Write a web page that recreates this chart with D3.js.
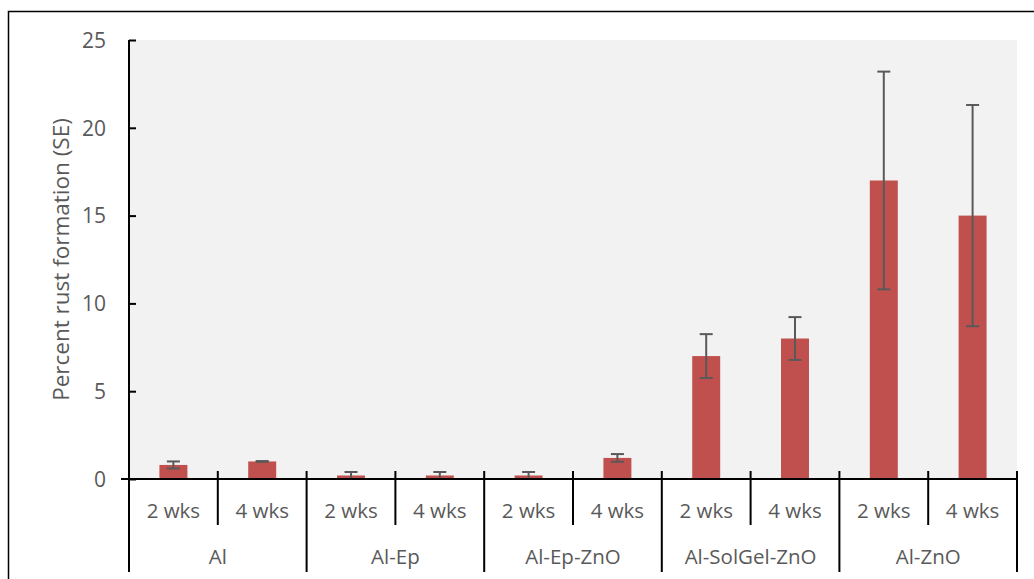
<!DOCTYPE html>
<html>
<head>
<meta charset="utf-8">
<script src="https://cdn.jsdelivr.net/npm/d3@7"></script>
<style>
  html, body { margin: 0; padding: 0; background: #fff; }
  svg { display: block; }
  text { font-family: "Open Sans", sans-serif; fill: #595959; }
</style>
</head>
<body>
<svg id="chart" width="1034" height="579"></svg>
<script>
const groups = ["Al", "Al-Ep", "Al-Ep-ZnO", "Al-SolGel-ZnO", "Al-ZnO"];
const periods = ["2 wks", "4 wks"];
const values = [0.8, 1.0, 0.2, 0.2, 0.2, 1.2, 7.0, 8.0, 17.0, 15.0];
const errors = [0.2, 0.02, 0.2, 0.2, 0.2, 0.22, 1.25, 1.22, 6.2, 6.3];
const yTicks = [0, 5, 10, 15, 20, 25];
const yTitle = "Percent rust formation (SE)";

const svg = d3.select("#chart");
const W = 1034, H = 579;
const plot = { left: 129, right: 1017, top: 40, bottom: 479 };

// outer border
svg.append("rect").attr("x", 8.5).attr("y", 11.5).attr("width", W + 10).attr("height", H + 10)
  .attr("fill", "none").attr("stroke", "#000").attr("stroke-width", 1.5);

// plot background
svg.append("rect").attr("x", plot.left).attr("y", plot.top)
  .attr("width", plot.right - plot.left).attr("height", plot.bottom - plot.top)
  .attr("fill", "#f2f2f2");

const data = [];
groups.forEach((g, gi) => periods.forEach((p, pi) => {
  const i = gi * periods.length + pi;
  data.push({ key: g + "|" + p, group: g, period: p, value: values[i], err: errors[i] });
}));

const x = d3.scaleBand().domain(data.map(d => d.key)).range([plot.left, plot.right]).paddingInner(0).paddingOuter(0);
const xg = d3.scaleBand().domain(groups).range([plot.left, plot.right]);
const y = d3.scaleLinear().domain([0, 25]).range([plot.bottom, plot.top]);

const bw = x.bandwidth() * 0.315;

// bars
svg.append("g").selectAll("rect").data(data).join("rect")
  .attr("x", d => x(d.key) + x.bandwidth() / 2 - bw / 2)
  .attr("y", d => y(d.value))
  .attr("width", bw)
  .attr("height", d => y(0) - y(d.value))
  .attr("fill", "#c0504d");

// error bars
const eg = svg.append("g").attr("stroke", "#595959").attr("stroke-width", 2);
data.forEach(d => {
  const cx = x(d.key) + x.bandwidth() / 2;
  const y1 = y(d.value + d.err), y0 = y(Math.max(0, d.value - d.err));
  eg.append("line").attr("x1", cx).attr("x2", cx).attr("y1", y1).attr("y2", y0);
  eg.append("line").attr("x1", cx - 6.5).attr("x2", cx + 6.5).attr("y1", y1).attr("y2", y1);
  if (d.value - d.err > 0) {
    eg.append("line").attr("x1", cx - 6.5).attr("x2", cx + 6.5).attr("y1", y0).attr("y2", y0);
  }
});

// y axis (inner ticks)
const yAxis = d3.axisLeft(y).tickValues(yTicks).tickSize(-7).tickPadding(0).tickFormat(d3.format("d"));
const yg = svg.append("g").attr("transform", `translate(${plot.left},0)`).call(yAxis);
yg.select(".domain").attr("stroke", "#000").attr("stroke-width", 2).attr("d", `M0,${plot.top}V${plot.bottom}`);
yg.selectAll(".tick line").attr("stroke", "#000").attr("stroke-width", 2);
yg.selectAll(".tick text").attr("x", -23).attr("font-size", "21px")
  .attr("font-family", "Open Sans, sans-serif").attr("fill", "#595959").attr("dy", "0.35em");

// y title
svg.append("text")
  .attr("transform", `translate(60,${(plot.top + plot.bottom) / 2}) rotate(-90)`)
  .attr("text-anchor", "middle").attr("dominant-baseline", "central")
  .attr("font-size", "22.5px").text(yTitle);

// x axis baseline
const ax = svg.append("g").attr("stroke", "#000").attr("stroke-width", 2);
ax.append("line").attr("x1", plot.left - 8).attr("x2", plot.right + 1).attr("y1", plot.bottom).attr("y2", plot.bottom);

// separators
data.forEach((d, i) => {
  const xs = x(d.key);
  const isGroup = i % periods.length === 0;
  if (i === 0) return;
  ax.append("line").attr("x1", xs).attr("x2", xs).attr("y1", 471).attr("y2", isGroup ? 572 : 525);
});
ax.append("line").attr("x1", plot.left).attr("x2", plot.left).attr("y1", plot.bottom).attr("y2", 572);
ax.append("line").attr("x1", plot.right).attr("x2", plot.right).attr("y1", 471).attr("y2", 572);

// period labels
svg.append("g").selectAll("text").data(data).join("text")
  .attr("x", d => x(d.key) + x.bandwidth() / 2)
  .attr("y", 510)
  .attr("text-anchor", "middle").attr("dominant-baseline", "central")
  .attr("font-size", "20.5px").text(d => d.period);

// group labels
svg.append("g").selectAll("text").data(groups).join("text")
  .attr("x", g => xg(g) + xg.bandwidth() / 2)
  .attr("y", 556)
  .attr("text-anchor", "middle").attr("dominant-baseline", "central")
  .attr("font-size", "20.5px").text(g => g);
</script>
</body>
</html>
